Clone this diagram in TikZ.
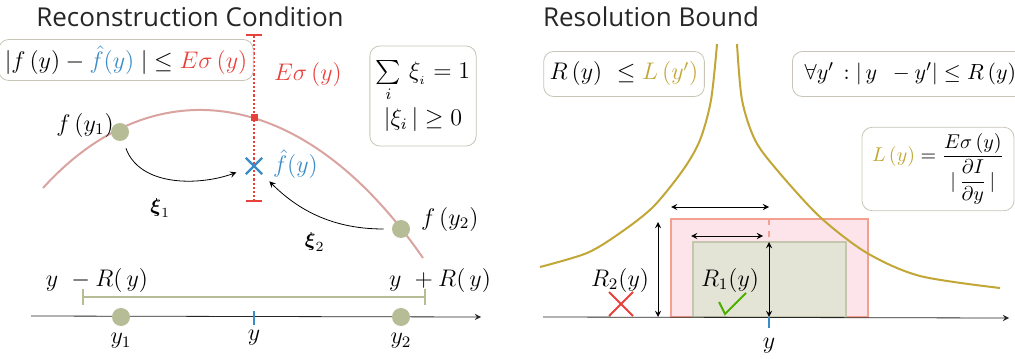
\documentclass[tikz,border=0pt]{standalone}
\usepackage{amsmath}
\usepackage{amsbsy}
\usepackage{fontspec}
\newfontfamily\titlefont{Open Sans}
\usetikzlibrary{shapes.misc,positioning}

\definecolor{curvepink}{HTML}{D9A3A0}
\definecolor{dotgreen}{HTML}{B5BC96}
\definecolor{errred}{HTML}{E8403A}
\definecolor{hatblue}{HTML}{3A8CC8}
\definecolor{gold}{HTML}{C2A636}
\definecolor{boxgray}{HTML}{C8C4B8}
\definecolor{rectpink}{HTML}{FCE4EA}
\definecolor{rectedge}{HTML}{F4A090}
\definecolor{rectgreen}{HTML}{E4E4D6}
\definecolor{rectgreenedge}{HTML}{C4C6AE}

\begin{document}
\begin{tikzpicture}[x=0.5pt, y=-0.5pt, >=stealth,
    title/.style={font=\titlefont\fontsize{13}{15}\selectfont, text=black!85},
    infobox/.style={draw=boxgray, rounded corners=5pt, fill=white, inner sep=3pt, font=\large},
    dot/.style={circle, fill=dotgreen, inner sep=0pt, minimum size=9pt},
    lbl/.style={font=\large}]
    \useasboundingbox (0,0) rectangle (1015,358);
    \clip (0,0) rectangle (1015,358);

    % Reconstruction Condition
    \node[title] (ltitle) at (190,17) {Reconstruction Condition};
    \draw[curvepink, line width=1pt] (43,188) .. controls (150,70) and (300,80) .. (423,258);
    \coordinate (errtop) at (254,34);
    \coordinate (errbot) at (254,202);
    \draw[errred, densely dotted, line width=1.1pt, |-|] (errtop) -- (errbot);
    \node[fill=errred, inner sep=0pt, minimum size=3.5pt] (errmark) at (254,117) {};
    \node[lbl, text=errred] (errlbl) at (308,75) {$E\sigma\,(y)$};
    \node[infobox, minimum width=118pt, minimum height=20.5pt] (errbox) at (126,60)
        {$|f\,(y) - {\color{hatblue}\hat f(y)}\;| \le {\color{errred}E\sigma\,(y)}$};
    \node[infobox, minimum width=53pt, minimum height=50pt, align=center] (xibox) at (423,96)
        {$\sum\limits_i\,\xi_{_i} = 1$\\[2pt] $|\xi_i\,| \ge 0$};

    \node[dot] (fy1) at (120,132) {};
    \node[lbl] (fy1lbl) at (85,125) {$f\,(y_1)$};
    \node[dot] (fy2) at (401,229) {};
    \node[lbl, anchor=west] (fy2lbl) at (414,219) {$f\,(y_2)$};
    \node[cross out, draw=hatblue, line width=1.2pt, minimum size=7pt, inner sep=0pt] (fhat) at (254,166) {};
    \node[lbl, text=hatblue, anchor=west] (fhatlbl) at (266,164) {$\hat f(y)$};

    \draw[->, shorten <=4pt, shorten >=5pt] (fy1) to[out=-70, in=200] node[pos=0.4, below=8pt] {$\boldsymbol{\xi}_1$} (fhat);
    \draw[->, shorten <=4pt, shorten >=5pt] (fy2) to[out=180, in=-45] node[pos=0.55, below=6pt] {$\boldsymbol{\xi}_2$} (fhat);

    \node[lbl] (yminus) at (97,280) {$y\ -R(\,y)$};
    \node[lbl] (yplus) at (440,280) {$y\ +R(\,y)$};
    \coordinate (rgl) at (82,297);
    \coordinate (rgr) at (426,297);
    \draw[dotgreen, line width=1pt, |-|] (rgl) -- (rgr);

    \coordinate (lax0) at (31,316);
    \coordinate (lax1) at (481,317);
    \draw[->, black!85] (lax0) -- (lax1);
    \node[dot] (y1) at (121,317) {};
    \node[dot] (y2) at (401,317) {};
    \draw[hatblue, line width=1.2pt] (254,311) -- (254,325);
    \node[lbl] (y1lbl) at (121,341) {$y_1$};
    \node[lbl] (ylbl) at (254,338) {$y$};
    \node[lbl] (y2lbl) at (401,341) {$y_2$};

    % Resolution Bound
    \node[title] (rtitle) at (651,17) {Resolution Bound};
    \fill[rectpink] (671,219) rectangle (868,317);
    \draw[rectedge, line width=1.3pt] (671,219) rectangle (868,317);
    \filldraw[fill=rectgreen, draw=rectgreenedge, line width=1.1pt] (693,242) rectangle (846,317);
    \draw[gold, line width=1pt] plot[smooth] coordinates {(717,44) (711,100) (700,140) (683,170) (653,207) (620,233) (587,253) (540,267)};
    \draw[gold, line width=1pt] plot[smooth] coordinates {(737,44) (742,100) (755,140) (777,170) (820,217) (867,253) (920,276) (1000,288)};
    \draw[rectedge, dashed, line width=1.2pt] (769,219) -- (769,242);

    \node[infobox, minimum width=77pt, minimum height=22.5pt] (rbox) at (624,74)
        {$R\,(y)\ \le {\color{gold}L\,(y')}$};
    \node[infobox, minimum width=118pt, minimum height=22.5pt, inner xsep=6pt, anchor=west,
        font=\fontsize{11}{13}\selectfont] (allbox) at (792,74)
        {$\forall y'\,:|\,y\ \,- y'|\le R\,(y)$};
    \node[infobox, minimum width=76pt, minimum height=39pt, font=\normalsize] (lbox) at (938,169)
        {${\color{gold}L\,(y)} = \dfrac{E\sigma\,(y)}{|\,\dfrac{\partial I}{\partial y}\,|}$};

    \draw[<->] (671,207) -- (769,207);
    \draw[<->] (691,236) -- (763,236);
    \draw[<->] (769,242) -- (769,317);
    \draw[<->] (658,222) -- (658,317);

    \coordinate (rax0) at (543,317);
    \coordinate (rax1) at (1009,318);
    \draw[->, black!85] (rax0) -- (rax1);
    \draw[hatblue, line width=1.2pt] (769,317) -- (769,328);
    \node[lbl] (rylbl) at (769,346) {$y$};

    \node[lbl] (r2lbl) at (620,280) {$R_2(y)$};
    \node[cross out, draw=errred, line width=1pt, minimum size=11pt, inner sep=0pt] (r2mark) at (621,304) {};
    \node[lbl] (r1lbl) at (730,280) {$R_1(y)$};
    \draw[green!55!black!70!yellow, line width=1pt] (719,302) -- (725,314) -- (746,293);
\end{tikzpicture}
\end{document}
